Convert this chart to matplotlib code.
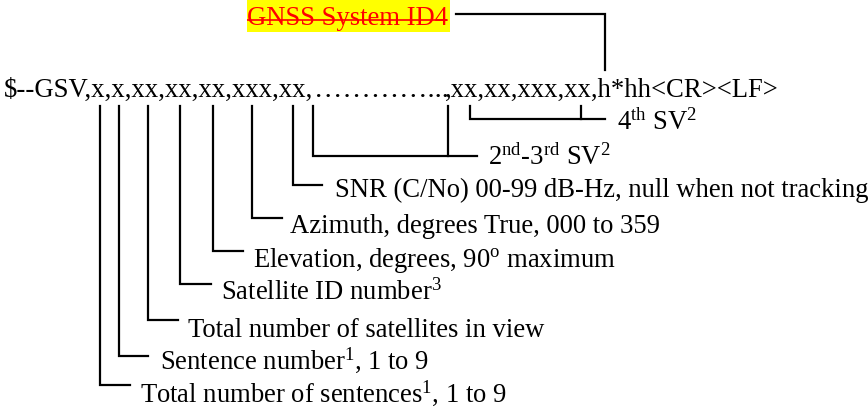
import matplotlib
matplotlib.use("Agg")
import matplotlib.pyplot as plt

plt.rcParams['font.family'] = ['Liberation Serif', 'DejaVu Serif']
plt.rcParams['mathtext.fontset'] = 'custom'
plt.rcParams['mathtext.rm'] = 'Liberation Serif'
plt.rcParams['mathtext.it'] = 'Liberation Serif:italic'

W, H = 868, 409
FS = 19.2

sentence_head = "$--GSV,x,x,xx,xx,xx,xxx,xx,"
sentence_dots = "…………..."
sentence_tail = ",xx,xx,xxx,xx,h*hh<CR><LF>"
sentence_y = 97

title_text = "GNSS System ID4"
title_pos = (247, 25)

# Leaders: field x, bottom y, end x of horizontal, label
leaders = [
    (100, 385, 130, r"Total number of sentences$^{1}$, 1 to 9"),
    (119, 356, 148, r"Sentence number$^{1}$, 1 to 9"),
    (148, 320, 178, "Total number of satellites in view"),
    (180, 284, 211, r"Satellite ID number$^{3}$"),
    (213, 251, 243, r"Elevation, degrees, 90$^{\mathrm{o}}$ maximum"),
    (252, 218, 282, "Azimuth, degrees True, 000 to 359"),
    (293, 185, 322, "SNR (C/No) 00-99 dB-Hz, null when not tracking"),
]
label_baselines = [402, 369, 337, 300, 267, 233, 197]
label_x = [140, 160, 188, 221, 253, 290, 335]

# Bracket leaders: (x left, x right, bottom y, end x, label, label x, label baseline)
brackets = [
    (313, 448, 156, 477, r"2$^{\mathrm{nd}}$-3$^{\mathrm{rd}}$ SV$^{2}$", 488, 165),
    (470, 581, 119, 605, r"4$^{\mathrm{th}}$ SV$^{2}$", 617, 130),
]
top_y = 106
lw = 1.6

fig = plt.figure(figsize=(W / 100, H / 100), dpi=100)
ax = fig.add_axes([0, 0, 1, 1])
ax.set_xlim(0, W)
ax.set_ylim(H, 0)
ax.axis('off')

ax.text(4, sentence_y, sentence_head, fontsize=19.3, va='baseline', ha='left', color='black')
ax.text(314, sentence_y, sentence_dots, fontsize=20.5, va='baseline', ha='left', color='black')
ax.text(779, sentence_y, sentence_tail, fontsize=FS, va='baseline', ha='right', color='black')

# Title with yellow highlight and strikethrough
ax.add_patch(plt.Rectangle((247, 0), 203, 32, facecolor='#ffff00', edgecolor='none'))
ax.text(*title_pos, title_text, fontsize=FS, va='baseline', ha='left', color='#ff0000')
ax.plot([247, 447], [20, 20], color='#ff0000', lw=1.2, solid_capstyle='butt')
ax.plot([456, 605, 605], [14, 14, 70], color='black', lw=lw, solid_joinstyle='miter')

for (x, yb, xe, lab), ly, lx in zip(leaders, label_baselines, label_x):
    ax.plot([x, x, xe], [top_y, yb, yb], color='black', lw=lw, solid_joinstyle='miter')
    ax.text(lx, ly, lab, fontsize=FS, va='baseline', ha='left', color='black')

for xl, xr, yb, xe, lab, lx, ly in brackets:
    ax.plot([xl, xl, xe], [top_y, yb, yb], color='black', lw=lw, solid_joinstyle='miter')
    ax.plot([xr, xr], [top_y, yb], color='black', lw=lw)
    ax.text(lx, ly, lab, fontsize=FS, va='baseline', ha='left', color='black')

fig.savefig("out.png", dpi=100)
